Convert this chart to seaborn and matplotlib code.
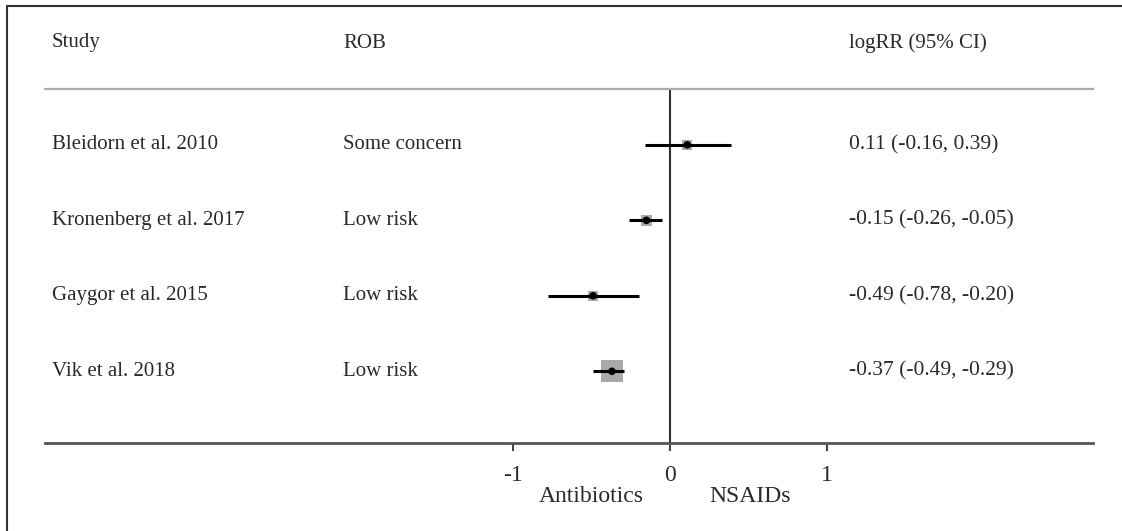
import matplotlib.pyplot as plt
import matplotlib.transforms as mtransforms
from matplotlib.lines import Line2D
import seaborn as sns
import pandas as pd

studies = ['Bleidorn et al. 2010', 'Kronenberg et al. 2017', 'Gaygor et al. 2015', 'Vik et al. 2018']
rob = ['Some concern', 'Low risk', 'Low risk', 'Low risk']
logrr = [0.11, -0.15, -0.49, -0.37]
ci_low = [-0.16, -0.26, -0.78, -0.49]
ci_high = [0.39, -0.05, -0.20, -0.29]
weights = [8, 9, 8, 22]
xticks = [-1, 0, 1]

df = pd.DataFrame({'study': studies, 'rob': rob, 'est': logrr,
                   'lo': ci_low, 'hi': ci_high, 'w': weights})
df['row'] = range(1, len(df) + 1)
df['label'] = [f'{e:.2f} ({l:.2f}, {h:.2f})' for e, l, h in zip(df.est, df.lo, df.hi)]

sns.set_style('white')
plt.rcParams['font.family'] = ['Liberation Serif', 'DejaVu Serif']
txt = '#2a2a2a'
fs = 15

W, H = 1122, 531
fig = plt.figure(figsize=(W / 100, H / 100), dpi=100)
ax = fig.add_axes([45 / W, 1 - 443 / H, (1093 - 45) / W, (443 - 89) / H])

# grey weight squares, CI lines, black centre dots
sns.scatterplot(data=df, x='est', y='row', size='w', sizes=(50, 260), marker='s',
                color='#aaaaaa', edgecolor='none', legend=False, ax=ax, zorder=2)
ax.hlines(df.row, df.lo, df.hi, color='black', lw=2.2, zorder=3)
sns.scatterplot(data=df, x='est', y='row', color='black', s=30, edgecolor='none',
                legend=False, ax=ax, zorder=4)
ax.axvline(0, color='#333333', lw=1.5, zorder=1)

ax.set_xlim((45 - 670) / 157, (1093 - 670) / 157)
ax.set_ylim(4.95, 0.26)
ax.set_xlabel('')
ax.set_ylabel('')
ax.set_yticks([])
ax.set_xticks(xticks)
ax.set_xticklabels([str(t) for t in xticks], fontsize=17, color=txt)
ax.tick_params(axis='x', direction='out', length=6, width=1.5, color='#444444', pad=10, bottom=True)

for s in ['left', 'right']:
    ax.spines[s].set_visible(False)
ax.spines['top'].set_color('#aaaaaa')
ax.spines['top'].set_linewidth(1.6)
ax.spines['bottom'].set_color('#555555')
ax.spines['bottom'].set_linewidth(2)

# table text columns
fx = lambda px: px / W
tr = mtransforms.blended_transform_factory(fig.transFigure, ax.transData)
for _, r in df.iterrows():
    ax.text(fx(52), r.row, r.study, transform=tr, va='center', ha='left', fontsize=fs, color=txt)
    ax.text(fx(343), r.row, r.rob, transform=tr, va='center', ha='left', fontsize=fs, color=txt)
    ax.text(fx(849), r.row, r.label, transform=tr, va='center', ha='left', fontsize=15.5, color=txt)

for x, s in [(52, 'Study'), (343, 'ROB'), (849, 'logRR (95% CI)')]:
    fig.text(fx(x), 1 - 43 / H, s, va='center', ha='left', fontsize=fs, color=txt)

trb = mtransforms.blended_transform_factory(ax.transData, fig.transFigure)
ax.text(-0.50, 1 - 497 / H, 'Antibiotics', transform=trb, ha='center', va='center', fontsize=17, color=txt)
ax.text(0.51, 1 - 497 / H, 'NSAIDs', transform=trb, ha='center', va='center', fontsize=17, color=txt)

# image border (left and top only visible)
fig.add_artist(Line2D([7 / W, 7 / W], [0, 1 - 6 / H], transform=fig.transFigure, color='#333333', lw=1.5))
fig.add_artist(Line2D([7 / W, 1], [1 - 6 / H, 1 - 6 / H], transform=fig.transFigure, color='#333333', lw=1.5))

fig.savefig('out.png', dpi=100)
